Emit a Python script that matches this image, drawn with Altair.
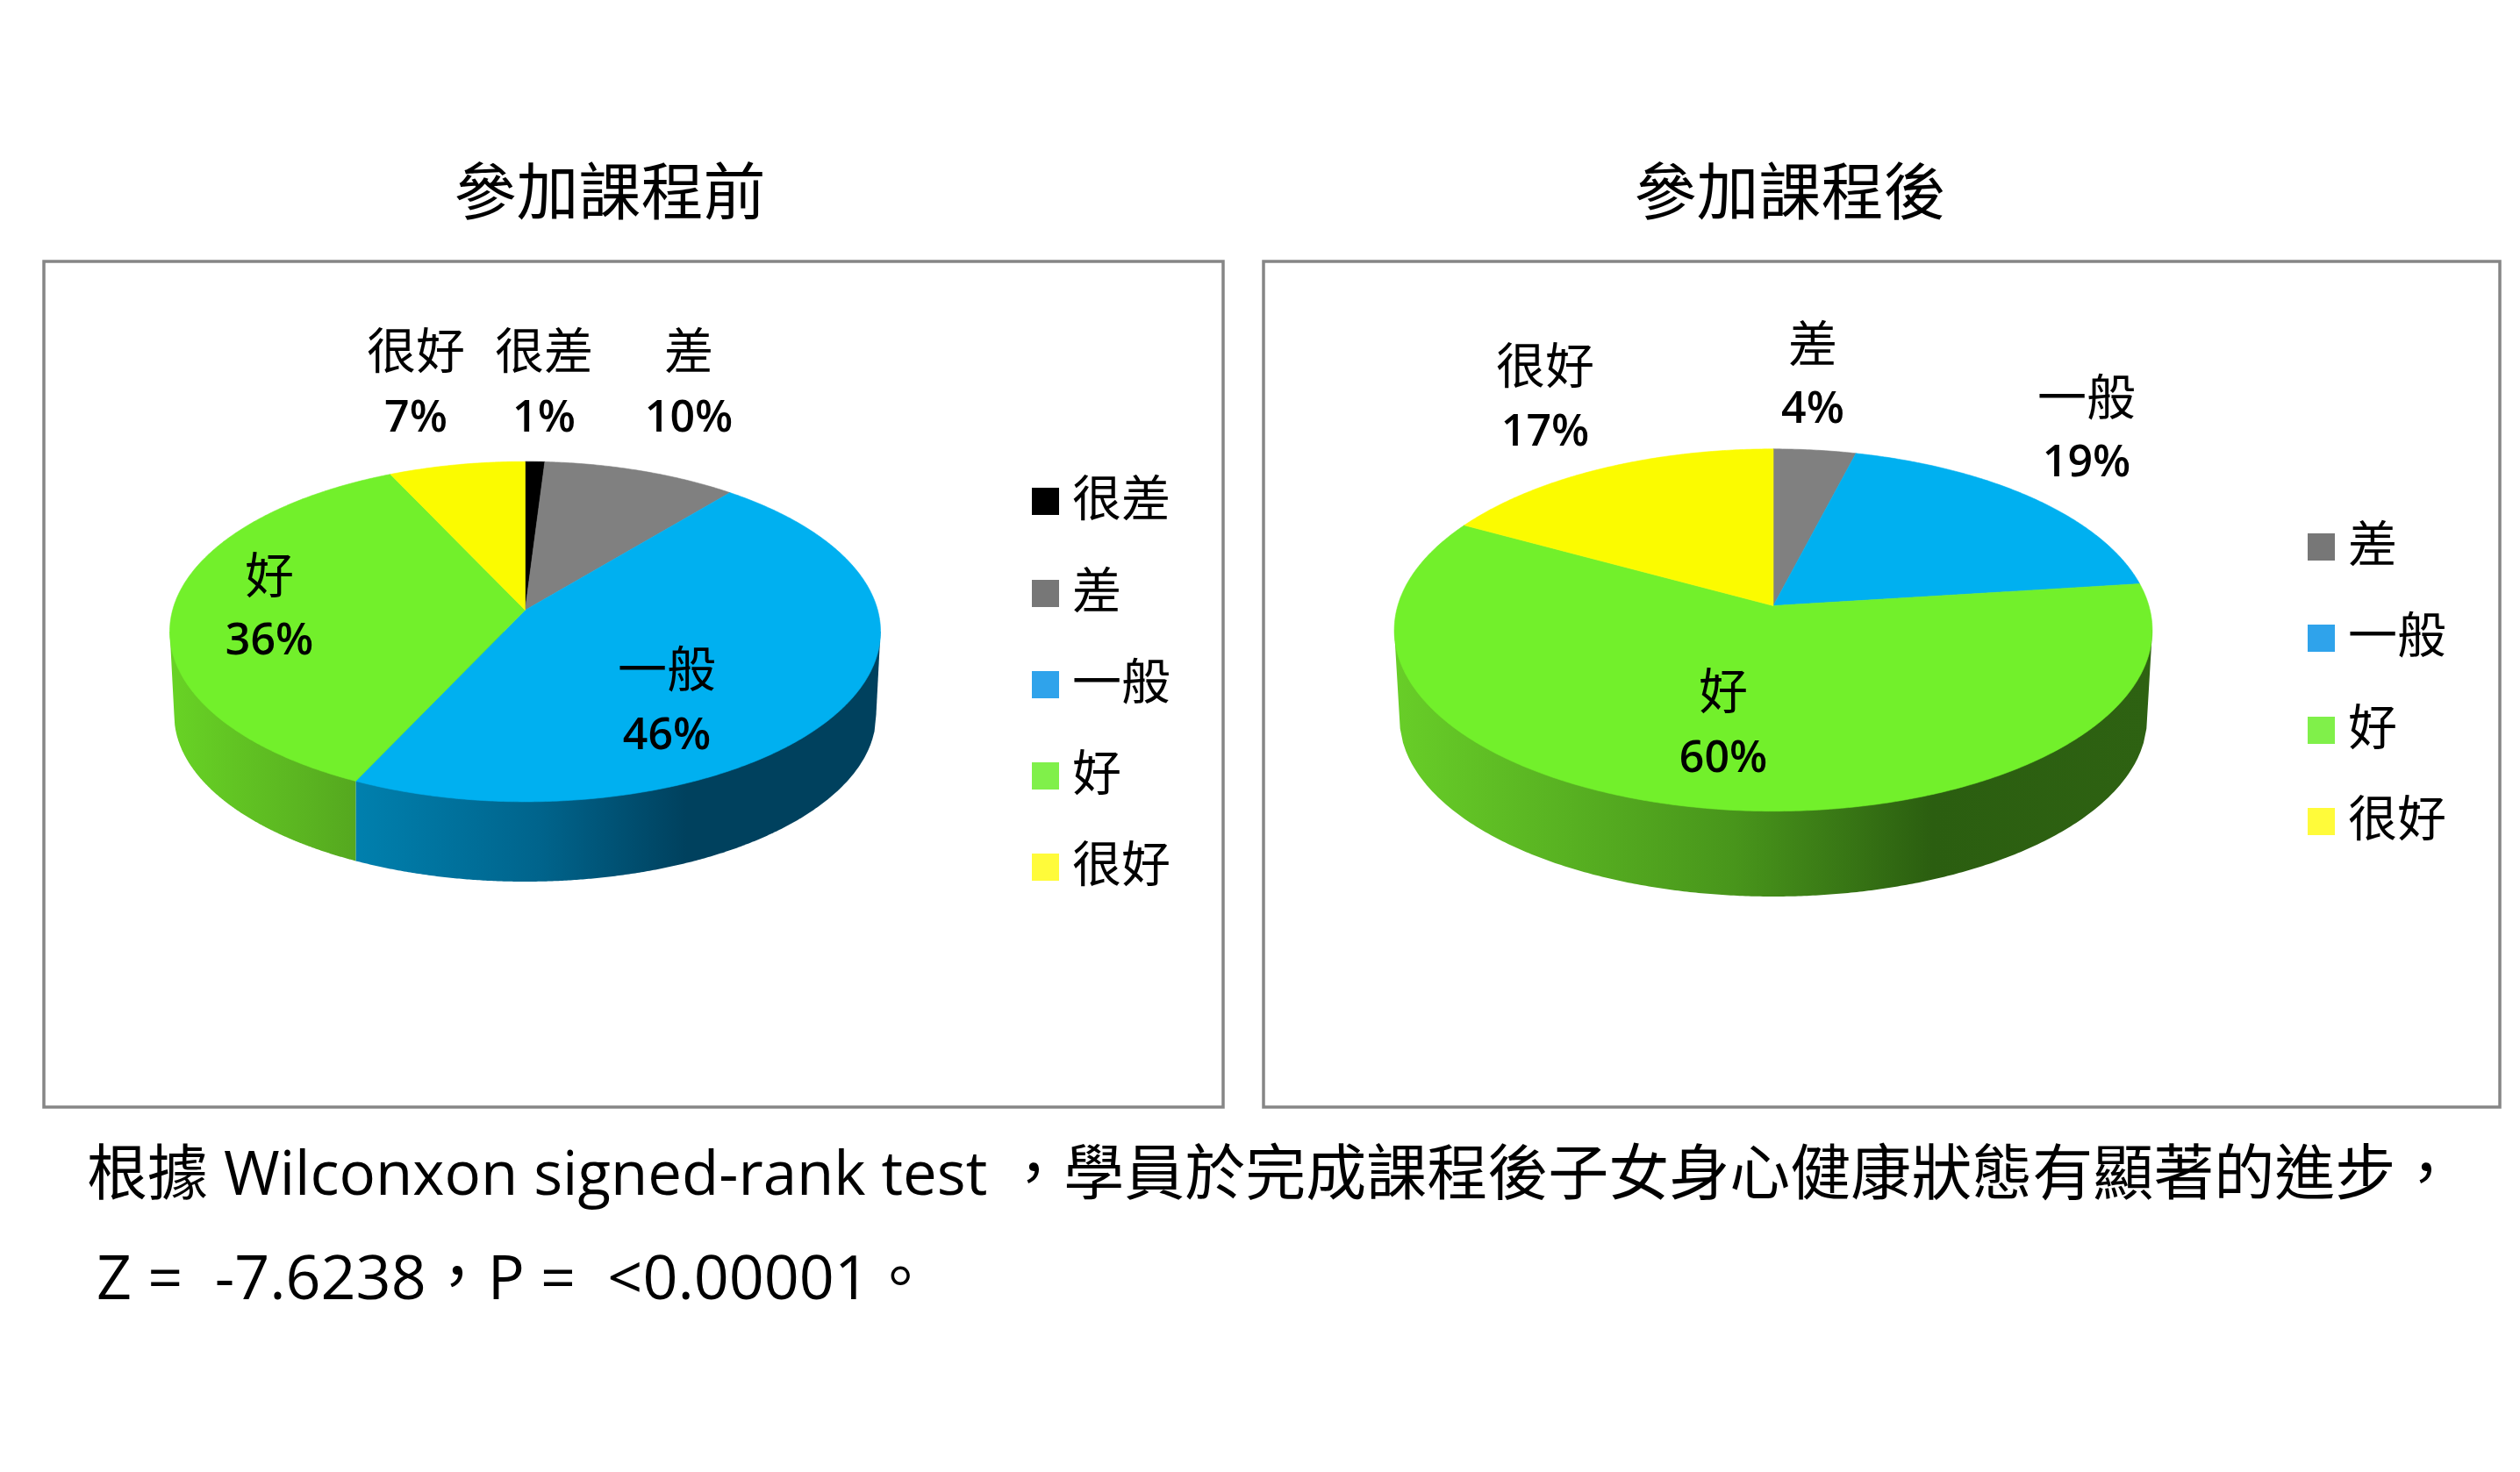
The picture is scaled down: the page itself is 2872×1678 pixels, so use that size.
import numpy as np
import pandas as pd
import altair as alt

W, H = 2856, 1662
FONT = "Open Sans, Noto Sans CJK TC"
CJK = "Noto Sans CJK TC"

# ---- data ----
before_names = ["很差", "差", "一般", "好", "很好"]
before_values = [1, 10, 46, 36, 7]
after_names = ["差", "一般", "好", "很好"]
after_values = [4, 19, 60, 17]
top_colors = {"很差": "#000000", "差": "#808080", "一般": "#00B0F0", "好": "#72F02B", "很好": "#FBFB00"}
legend_colors = {"很差": "#000000", "差": "#777777", "一般": "#2FA3EB", "好": "#80F04A", "很好": "#FFFB3A"}
title_before = "參加課程前"
title_after = "參加課程後"
note_1 = "根據 Wilconxon signed-rank test ，學員於完成課程後子女身心健康狀態有顯著的進步，"
note_2 = "Z =\u00a0 -7.6238，P =\u00a0 <0.00001。"

SX = alt.Scale(domain=[8, 8 + W])
SY = alt.Scale(domain=[8 + H, 8])


def frame(x0, y0, x1, y1):
    return alt.Chart(alt.Data(values=[{}])).mark_rect(fill="#FFFFFF", stroke="#868686", strokeWidth=3.5).encode(
        x=alt.value(x0 - 8), x2=alt.value(x1 - 8), y=alt.value(y0 - 8), y2=alt.value(y1 - 8))


def text(s, x, y, size, align="center", font=FONT, weight=400):
    return alt.Chart(alt.Data(values=[{"t": s}])).mark_text(
        font=font, fontSize=size, align=align, baseline="middle", color="#000000", fontWeight=weight
    ).encode(text="t:N", x=alt.value(x - 8), y=alt.value(y - 8))


def swatch(name, x0, y0, size=31):
    return alt.Chart(alt.Data(values=[{}])).mark_rect(fill=legend_colors[name]).encode(
        x=alt.value(x0 - 8), x2=alt.value(x0 + size - 8), y=alt.value(y0 - 8), y2=alt.value(y0 + size - 8))


def gradient(stops):
    return alt.Gradient(gradient="linear", x1=0, x2=1, y1=0, y2=0,
                        stops=[alt.GradientStop(offset=o, color=c) for o, c in stops])


def pie(names, values, cx, ay, top_cy, rx_t, ry_t, k, a, b, cy_b, rx_b, ry_b, wall):
    """Perspective pie: the slices follow the values, projected on an ellipse."""
    layers = []
    edges = np.cumsum([0] + list(values)) / sum(values) * 360.0

    def proj(t):
        r = np.radians(t)
        u, v = np.sin(r), -np.cos(r)
        d = 1 - k * v
        return cx + a * u / d, ay + b * v / d

    # side wall (drawn first, the top faces cover its upper part)
    for i, name in enumerate(names):
        s, e = max(edges[i], 90), min(edges[i + 1], 270)
        if s >= e or name not in wall:
            continue
        x_r = cx + rx_t if s == 90 else proj(s)[0]
        x_l = cx - rx_t if e == 270 else proj(e)[0]
        xs = np.linspace(x_l, x_r, 260)
        if e == 270:
            xs = np.concatenate([[cx - rx_t, cx - rx_b], xs[xs > cx - rx_b]])
        if s == 90:
            xs = np.concatenate([xs[xs < cx + rx_b], [cx + rx_b, cx + rx_t]])
        ys = []
        for x in xs:
            dx = abs(x - cx)
            if dx <= rx_b:
                ys.append(cy_b + ry_b * np.sqrt(max(0, 1 - (dx / rx_b) ** 2)))
            else:
                ys.append(cy_b + (top_cy - cy_b) * (dx - rx_b) / (rx_t - rx_b))
        df = pd.DataFrame({"x": xs, "y": ys, "y2": top_cy})
        layers.append(alt.Chart(df).mark_area(orient="vertical", color=gradient(wall[name])).encode(
            x=alt.X("x:Q", scale=SX, axis=None),
            y=alt.Y("y:Q", scale=SY, axis=None),
            y2="y2:Q"))

    # top faces
    for i, name in enumerate(names):
        ts = np.linspace(edges[i], edges[i + 1], max(3, int((edges[i + 1] - edges[i]) * 2)))
        px, py = proj(ts)
        df = pd.DataFrame({"x": np.r_[cx, px, cx], "y": np.r_[ay, py, ay]})
        df["o"] = range(len(df))
        c = top_colors[name]
        layers.append(alt.Chart(df).mark_line(fill=c, stroke=c, strokeWidth=0.6, interpolate="linear").encode(
            x=alt.X("x:Q", scale=SX, axis=None),
            y=alt.Y("y:Q", scale=SY, axis=None),
            order="o:Q"))
    return layers


wall_before = {
    "一般": [(0, "#0080AE"), (0.35, "#00648C"), (0.63, "#00415E"), (1, "#00415E")],
    "好": [(0, "#68D325"), (1, "#55A81F")],
}
wall_after = {
    "好": [(0, "#68CE28"), (0.45, "#48951B"), (0.71, "#2B5E10"), (1, "#2E6212")],
}

layers = [frame(50, 298, 1394, 1262), frame(1440, 298, 2849, 1262)]
layers += pie(before_names, before_values, 598.5, 695.6, 720, 405, 194, 0.126, 401.8, 190.8, 815, 400, 190, wall_before)
layers += pie(after_names, after_values, 2021, 690.5, 718, 432, 206.5, 0.1344, 428, 202.7, 819, 426, 203, wall_after)

layers += [text(title_before, 695, 223, 71), text(title_after, 2040, 223, 71)]

# data labels
LAB, PCT = 56, 50
for name, pct, x, y1, y2 in [("很好", 7, 474, 403, 477), ("很差", 1, 620, 403, 477), ("差", 10, 785, 403, 477),
                             ("好", 36, 307, 659, 731), ("一般", 46, 760, 766, 839),
                             ("差", 4, 2066, 395, 467), ("一般", 19, 2378, 456, 528),
                             ("很好", 17, 1761, 420, 493), ("好", 60, 1964, 791, 865)]:
    layers += [text(name, x, y1, LAB, font=CJK), text(f"{pct}%", x, y2, PCT, weight=600)]

# legends
for name, y in zip(before_names, [556, 661, 765, 869, 973]):
    layers += [swatch(name, 1176, y), text(name, 1222, y + 15, 56, align="left", font=CJK)]
for name, y in zip(after_names, [608, 712, 817, 921]):
    layers += [swatch(name, 2630, y), text(name, 2676, y + 15, 56, align="left", font=CJK)]

# note
layers += [text(note_1, 99, 1341, 69, align="left"), text(note_2, 110, 1460, 70, align="left")]

chart = alt.layer(*layers).properties(
    width=W, height=H, padding=0, background="#FFFFFF",
    autosize=alt.AutoSizeParams(type="none"),
).configure_view(stroke=None)

chart.save("out.html", embed_options={"renderer": "svg", "actions": False})
